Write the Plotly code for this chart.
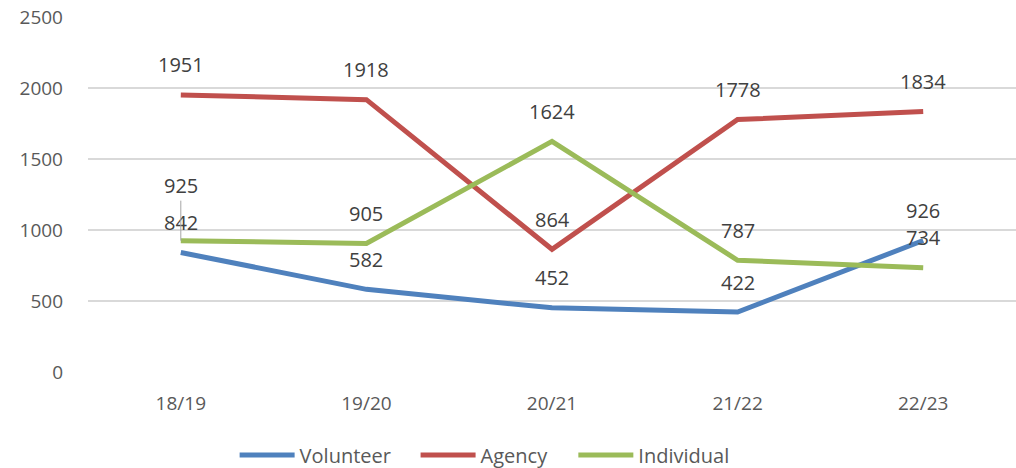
import plotly.graph_objects as go

categories = ["18/19", "19/20", "20/21", "21/22", "22/23"]
volunteer = [842, 582, 452, 422, 926]
agency = [1951, 1918, 864, 1778, 1834]
individual = [925, 905, 1624, 787, 734]
y_ticks = [0, 500, 1000, 1500, 2000, 2500]

series = [
    ("Volunteer", volunteer, "#4F81BD", "legend", 0.158),
    ("Agency", agency, "#C0504D", "legend2", 0.353),
    ("Individual", individual, "#9BBB59", "legend3", 0.523),
]

FONT = "Open Sans"
TXT = "#595959"

fig = go.Figure()
for name, vals, col, lg, _ in series:
    fig.add_trace(go.Scatter(
        x=categories, y=vals, name=name, mode="lines", legend=lg,
        line=dict(color=col, width=5), hoverinfo="x+y+name",
    ))

annotations = []
for name, vals, col, _, _ in series:
    for c, v in zip(categories, vals):
        if name == "Individual" and c == "18/19":
            annotations.append(dict(
                x=c, y=v, text=str(v), showarrow=True, arrowhead=0,
                arrowwidth=1, arrowcolor="#A6A6A6", ax=0, ay=-55,
                standoff=0, font=dict(family=FONT, size=20, color="#404040"),
            ))
        else:
            annotations.append(dict(
                x=c, y=v, text=str(v), showarrow=False, yshift=30,
                font=dict(family=FONT, size=20, color="#404040"),
            ))

legend_style = dict(orientation="h", y=-0.234, yanchor="middle", xanchor="left",
                    font=dict(family=FONT, size=20, color=TXT), itemwidth=55,
                    bgcolor="rgba(0,0,0,0)")
legends = {}
for name, vals, col, lg, lx in series:
    legends[lg] = dict(legend_style, x=lx)

fig.update_layout(
    width=1016, height=468,
    margin=dict(l=88, r=0, t=17, b=96, autoexpand=False),
    paper_bgcolor="white", plot_bgcolor="white",
    font=dict(family=FONT, size=19, color=TXT),
    annotations=annotations,
    showlegend=True,
    xaxis=dict(type="category", range=[-0.5, 4.5], showgrid=False, showline=False,
               ticks="", tickfont=dict(family=FONT, size=19, color=TXT),
               ticklabelstandoff=18),
    yaxis=dict(range=[0, 2500], tickvals=y_ticks, showgrid=True,
               gridcolor="#D9D9D9", gridwidth=1.5, zeroline=False,
               showline=False, ticks="",
               tickfont=dict(family=FONT, size=19, color=TXT), ticklabelstandoff=24),
    **legends,
)

fig.write_html("out.html", post_script="document.body.style.margin='0';",
               config={"displayModeBar": False})
